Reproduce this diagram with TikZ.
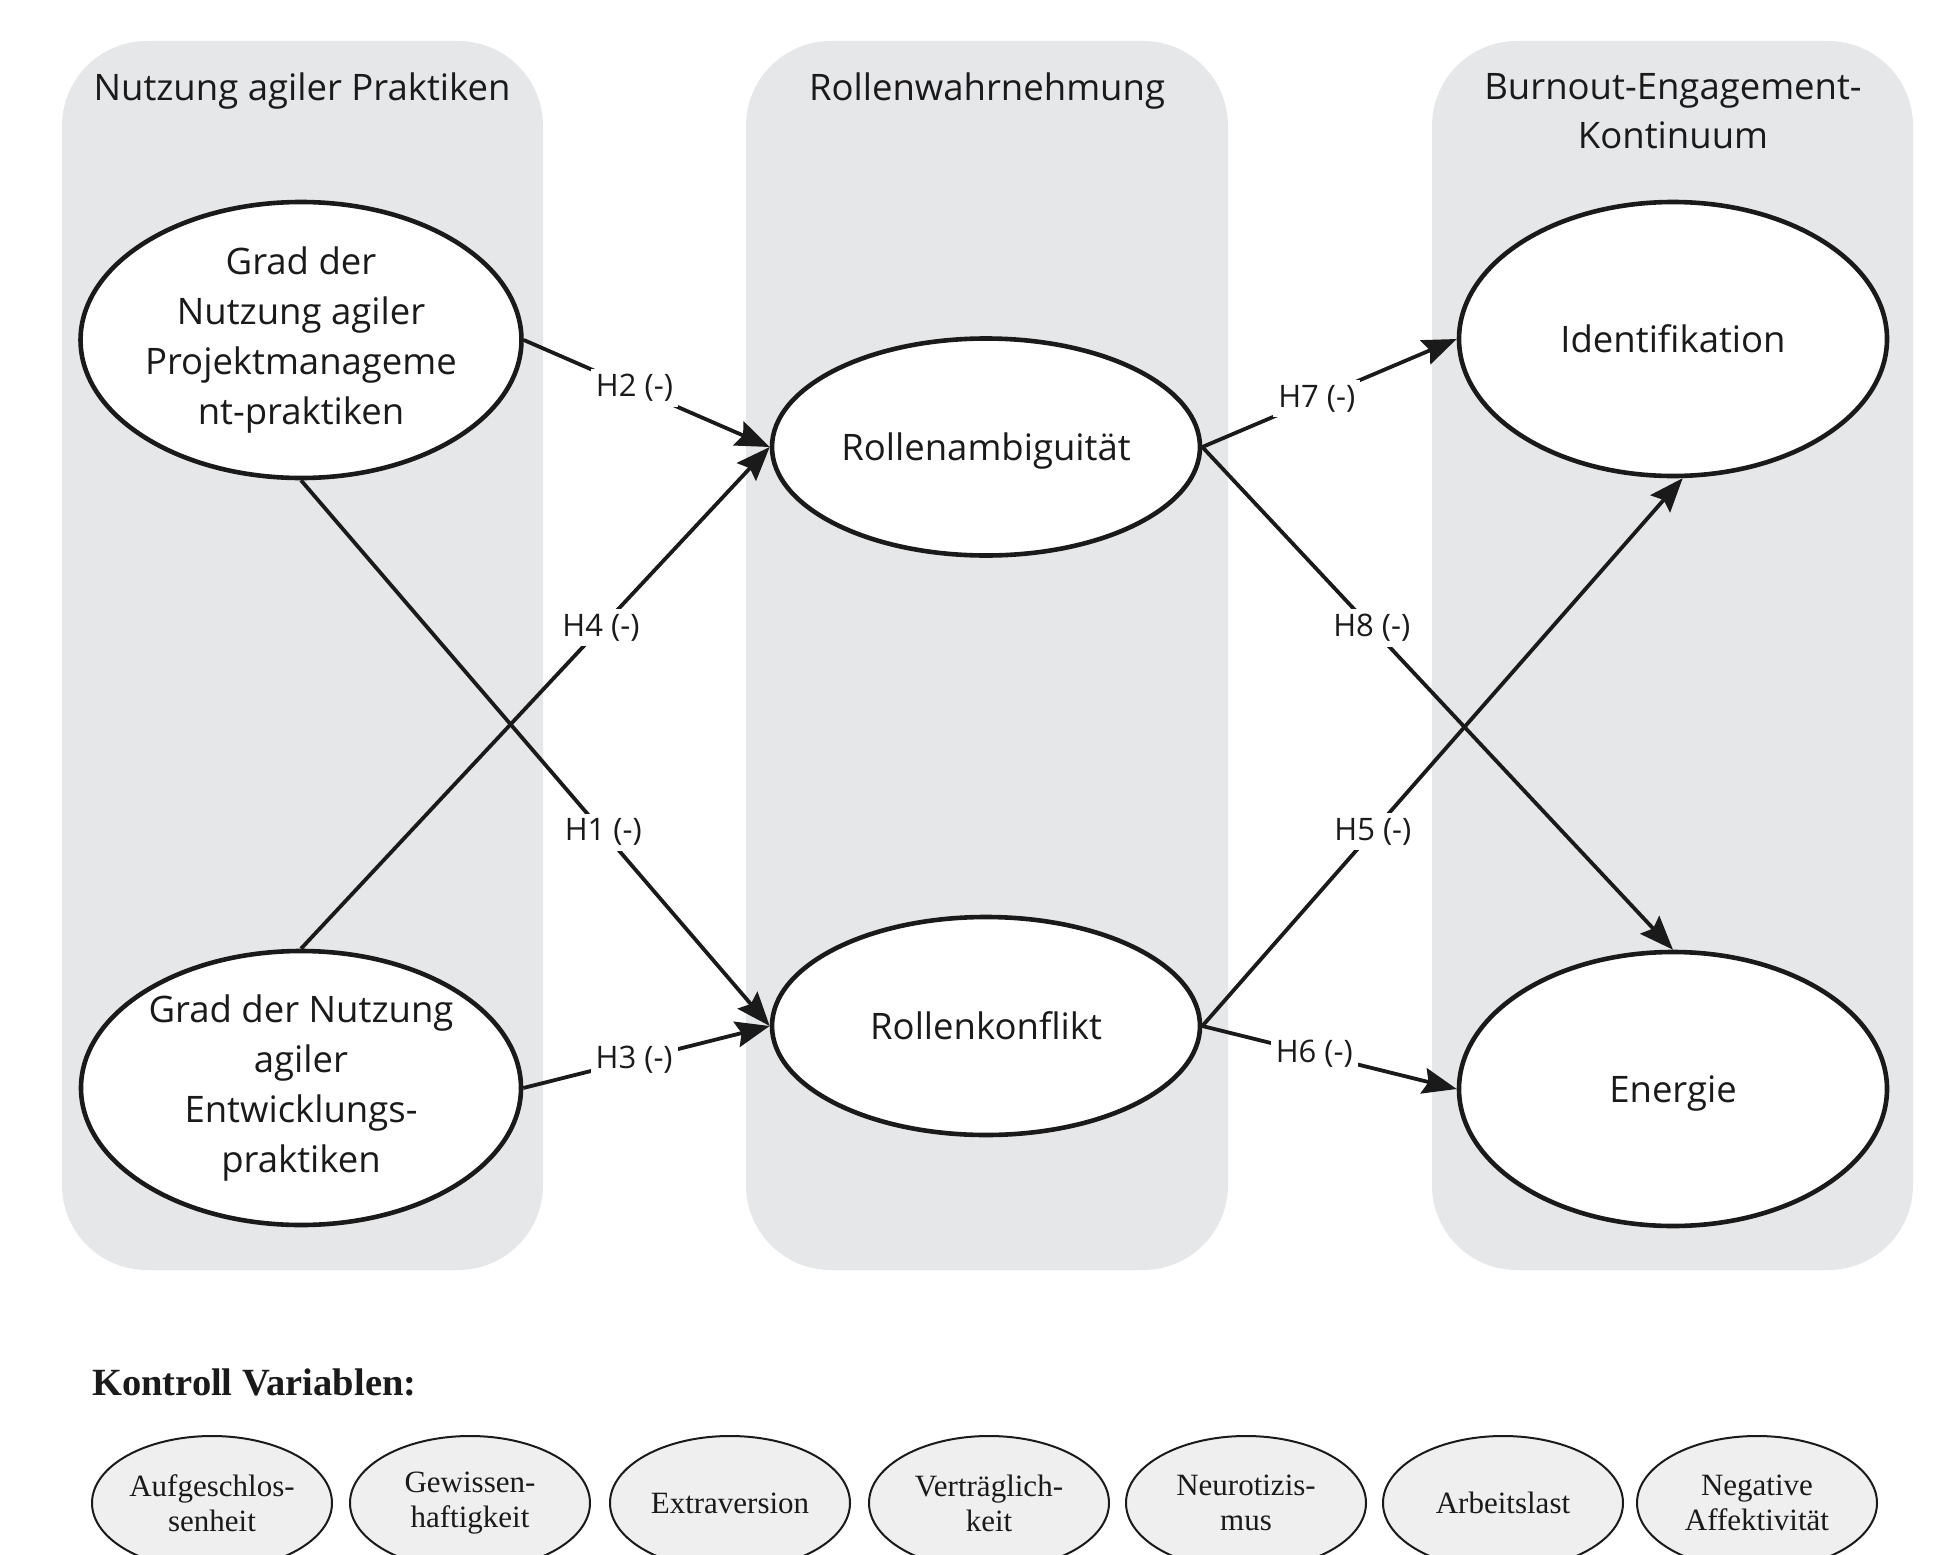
\documentclass[tikz,border=0pt]{standalone}
\usepackage{fontspec}
\setmainfont{Open Sans}
\newfontfamily\tnr{Liberation Serif}
\usetikzlibrary{shapes.geometric,arrows.meta}
\definecolor{panelgray}{HTML}{E6E7E9}
\definecolor{ctrlgray}{HTML}{EFEFEF}
\definecolor{ink}{HTML}{1A1A1A}
\begin{document}
\begin{tikzpicture}[x=1pt,y=-1pt,
  panel/.style={fill=panelgray, draw=none, rounded corners=85pt},
  bigell/.style={ellipse, draw=ink, line width=4.6pt, fill=white, inner sep=0pt, align=center, text=ink, font=\fontsize{36.5}{50}\selectfont},
  grouptitle/.style={align=center, inner sep=0pt, text=ink, font=\fontsize{36.5}{49}\selectfont},
  hyp/.style={-{Stealth[length=34pt,width=26pt,inset=5pt]}, line width=3.8pt, draw=ink},
  hlab/.style={fill=white, inner sep=5pt, text=ink, font=\fontsize{31}{36}\selectfont},
  ctrl/.style={ellipse, draw=ink, line width=2pt, fill=ctrlgray, minimum width=240pt, minimum height=134pt, inner sep=0pt, align=center, text=ink, font=\tnr\fontsize{31}{35}\selectfont}
]
\clip (0,0) rectangle (1933,1555);
\fill[white] (0,0) rectangle (1933,1555);

% panels
\fill[panel] (62,41) rectangle (543,1270);
\fill[panel] (746,41) rectangle (1228,1270);
\fill[panel] (1432,41) rectangle (1913,1270);

% panel titles
\node[grouptitle, anchor=base] (t1) at (302,100) {Nutzung agiler Praktiken};
\node[grouptitle, anchor=base] (t2) at (987,100) {Rollenwahrnehmung};
\node[grouptitle, anchor=north] (t3) at (1673,73) {Burnout-Engagement-\\Kontinuum};

% main constructs
\node[bigell, minimum width=440pt, minimum height=276pt] (pm) at (301,340) {Grad der\\Nutzung agiler\\Projektmanageme\\nt-praktiken};
\node[bigell, minimum width=440pt, minimum height=274pt] (ent) at (301,1088) {Grad der Nutzung\\agiler\\Entwicklungs-\\praktiken};
\node[bigell, minimum width=428pt, minimum height=217pt, text depth=0pt] (amb) at (986,447) {Rollenambiguität};
\node[bigell, minimum width=428pt, minimum height=218pt] (konf) at (986,1026) {Rollenkonflikt};
\node[bigell, minimum width=428pt, minimum height=274pt] (iden) at (1673,339) {Identifikation};
\node[bigell, minimum width=428pt, minimum height=274pt, text depth=0pt] (ener) at (1673,1089) {Energie};

% hypotheses
\draw[hyp] (pm.east) -- node[hlab, pos=0.45] (h2) {H2 (-)} (amb.west);
\draw[hyp] (ent.north) -- node[hlab, pos=0.64] (h4) {H4 (-)} (amb.west);
\draw[hyp] (pm.south) -- node[hlab, pos=0.645] (h1) {H1 (-)} (konf.west);
\draw[hyp] (ent.east) -- node[hlab, pos=0.45] (h3) {H3 (-)} (konf.west);
\draw[hyp] (amb.east) -- node[hlab, pos=0.45] (h7) {H7 (-)} (iden.west);
\draw[hyp] (amb.east) -- node[hlab, pos=0.36] (h8) {H8 (-)} (ener.north);
\draw[hyp] (konf.east) -- node[hlab, pos=0.355] (h5) {H5 (-)} (iden.-86);
\draw[hyp] (konf.east) -- node[hlab, pos=0.44] (h6) {H6 (-)} (ener.west);

% control variables
\node[anchor=base west, inner sep=0pt, text=ink, font=\tnr\bfseries\fontsize{38.5}{44}\selectfont] (kv) at (92,1395) {Kontroll Variablen:};
\node[ctrl] (c1) at (212,1503) {Aufgeschlos-\\senheit};
\node[ctrl] (c2) at (470,1503) {Gewissen-\\haftigkeit};
\node[ctrl] (c3) at (730,1503) {Extraversion};
\node[ctrl] (c4) at (989,1503) {Verträglich-\\keit};
\node[ctrl] (c5) at (1246,1503) {Neurotizis-\\mus};
\node[ctrl] (c6) at (1503,1503) {Arbeitslast};
\node[ctrl] (c7) at (1757,1503) {Negative\\Affektivität};
\end{tikzpicture}
\end{document}
